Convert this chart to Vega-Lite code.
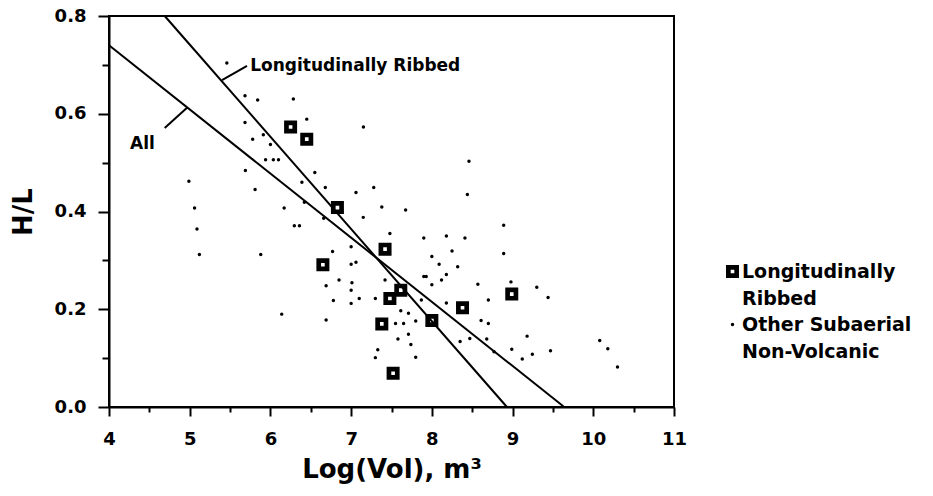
{
  "$schema": "https://vega.github.io/schema/vega-lite/v6.json",
  "width": 565,
  "height": 391,
  "autosize": {"type": "none"},
  "padding": {"left": 109, "top": 16, "right": 259, "bottom": 89},
  "background": "white",
  "config": {
    "view": {"stroke": "black", "strokeWidth": 2},
    "font": "DejaVu Sans",
    "style": {"guide-label": {"lineHeight": 27}},
    "axis": {
      "domainColor": "black", "domainWidth": 2, "tickColor": "black", "tickWidth": 2, "grid": false,
      "labelFont": "DejaVu Sans", "labelFontWeight": "bold", "labelFontSize": 18, "labelColor": "black",
      "titleFont": "DejaVu Sans", "titleFontWeight": "bold", "titleFontSize": 26, "titleColor": "black"
    }
  },
  "datasets": {
    "fits": [
      {"fit": "All", "x": 4.0, "y": 0.74},
      {"fit": "All", "x": 9.64, "y": 0.0},
      {"fit": "Longitudinally Ribbed", "x": 4.69, "y": 0.8},
      {"fit": "Longitudinally Ribbed", "x": 8.93, "y": 0.0}
    ],
    "leaders": [
      {"x1": 5.40, "y1": 0.669, "x2": 5.71, "y2": 0.698},
      {"x1": 4.69, "y1": 0.571, "x2": 4.97, "y2": 0.613}
    ],
    "notes": [
      {"x": 5.75, "y": 0.698, "label": "Longitudinally Ribbed"},
      {"x": 4.26, "y": 0.539, "label": "All"}
    ],
    "pts": [
      {"t": "Other", "x": 5.46, "y": 0.704}, {"t": "Other", "x": 5.685, "y": 0.637}, {"t": "Other", "x": 5.842, "y": 0.628},
      {"t": "Other", "x": 6.284, "y": 0.63}, {"t": "Other", "x": 6.45, "y": 0.589}, {"t": "Other", "x": 7.152, "y": 0.573},
      {"t": "Other", "x": 5.685, "y": 0.582}, {"t": "Other", "x": 5.912, "y": 0.557}, {"t": "Other", "x": 5.78, "y": 0.548},
      {"t": "Other", "x": 6.0, "y": 0.537}, {"t": "Other", "x": 5.94, "y": 0.506}, {"t": "Other", "x": 6.036, "y": 0.506},
      {"t": "Other", "x": 6.1, "y": 0.506}, {"t": "Other", "x": 5.69, "y": 0.484}, {"t": "Other", "x": 6.55, "y": 0.48},
      {"t": "Other", "x": 6.39, "y": 0.46}, {"t": "Other", "x": 4.99, "y": 0.462}, {"t": "Other", "x": 5.81, "y": 0.445},
      {"t": "Other", "x": 6.68, "y": 0.449}, {"t": "Other", "x": 7.06, "y": 0.439}, {"t": "Other", "x": 7.28, "y": 0.449},
      {"t": "Other", "x": 6.42, "y": 0.419}, {"t": "Other", "x": 5.06, "y": 0.407}, {"t": "Other", "x": 6.17, "y": 0.407},
      {"t": "Other", "x": 6.66, "y": 0.386}, {"t": "Other", "x": 7.15, "y": 0.388}, {"t": "Other", "x": 7.38, "y": 0.409},
      {"t": "Other", "x": 5.09, "y": 0.364}, {"t": "Other", "x": 6.296, "y": 0.371}, {"t": "Other", "x": 6.36, "y": 0.371},
      {"t": "Other", "x": 7.48, "y": 0.355}, {"t": "Other", "x": 5.12, "y": 0.312}, {"t": "Other", "x": 5.88, "y": 0.312},
      {"t": "Other", "x": 6.77, "y": 0.318}, {"t": "Other", "x": 7.0, "y": 0.328}, {"t": "Other", "x": 7.0, "y": 0.292},
      {"t": "Other", "x": 7.06, "y": 0.296}, {"t": "Other", "x": 6.85, "y": 0.26}, {"t": "Other", "x": 7.01, "y": 0.254},
      {"t": "Other", "x": 7.42, "y": 0.26}, {"t": "Other", "x": 6.69, "y": 0.248}, {"t": "Other", "x": 7.0, "y": 0.239},
      {"t": "Other", "x": 7.1, "y": 0.222}, {"t": "Other", "x": 7.3, "y": 0.222}, {"t": "Other", "x": 6.78, "y": 0.218},
      {"t": "Other", "x": 7.0, "y": 0.212}, {"t": "Other", "x": 6.14, "y": 0.19}, {"t": "Other", "x": 6.69, "y": 0.178},
      {"t": "Other", "x": 7.55, "y": 0.171}, {"t": "Other", "x": 7.58, "y": 0.139}, {"t": "Other", "x": 7.33, "y": 0.117},
      {"t": "Other", "x": 7.3, "y": 0.101}, {"t": "Other", "x": 8.46, "y": 0.503}, {"t": "Other", "x": 8.44, "y": 0.435},
      {"t": "Other", "x": 7.675, "y": 0.403}, {"t": "Other", "x": 8.89, "y": 0.372}, {"t": "Other", "x": 7.9, "y": 0.346},
      {"t": "Other", "x": 8.18, "y": 0.35}, {"t": "Other", "x": 8.41, "y": 0.346}, {"t": "Other", "x": 8.25, "y": 0.319},
      {"t": "Other", "x": 8.0, "y": 0.308}, {"t": "Other", "x": 8.89, "y": 0.314}, {"t": "Other", "x": 8.09, "y": 0.292},
      {"t": "Other", "x": 8.32, "y": 0.287}, {"t": "Other", "x": 8.18, "y": 0.271}, {"t": "Other", "x": 7.9, "y": 0.267},
      {"t": "Other", "x": 7.93, "y": 0.267}, {"t": "Other", "x": 8.12, "y": 0.26}, {"t": "Other", "x": 8.0, "y": 0.25},
      {"t": "Other", "x": 8.57, "y": 0.251}, {"t": "Other", "x": 8.98, "y": 0.256}, {"t": "Other", "x": 9.3, "y": 0.245},
      {"t": "Other", "x": 9.44, "y": 0.224}, {"t": "Other", "x": 8.7, "y": 0.219}, {"t": "Other", "x": 7.87, "y": 0.219},
      {"t": "Other", "x": 8.18, "y": 0.213}, {"t": "Other", "x": 7.615, "y": 0.197}, {"t": "Other", "x": 7.71, "y": 0.192},
      {"t": "Other", "x": 7.8, "y": 0.176}, {"t": "Other", "x": 7.65, "y": 0.171}, {"t": "Other", "x": 8.61, "y": 0.177},
      {"t": "Other", "x": 8.7, "y": 0.171}, {"t": "Other", "x": 7.71, "y": 0.149}, {"t": "Other", "x": 7.74, "y": 0.128},
      {"t": "Other", "x": 7.8, "y": 0.102}, {"t": "Other", "x": 8.35, "y": 0.134}, {"t": "Other", "x": 8.47, "y": 0.14},
      {"t": "Other", "x": 8.68, "y": 0.139}, {"t": "Other", "x": 8.77, "y": 0.113}, {"t": "Other", "x": 8.99, "y": 0.118},
      {"t": "Other", "x": 9.18, "y": 0.145}, {"t": "Other", "x": 9.12, "y": 0.098}, {"t": "Other", "x": 9.245, "y": 0.108},
      {"t": "Other", "x": 9.47, "y": 0.115}, {"t": "Other", "x": 10.08, "y": 0.136}, {"t": "Other", "x": 10.18, "y": 0.119},
      {"t": "Other", "x": 10.3, "y": 0.082},
      {"t": "LR", "x": 6.25, "y": 0.573}, {"t": "LR", "x": 6.45, "y": 0.548}, {"t": "LR", "x": 6.83, "y": 0.408},
      {"t": "LR", "x": 6.65, "y": 0.291}, {"t": "LR", "x": 7.42, "y": 0.323}, {"t": "LR", "x": 7.615, "y": 0.239},
      {"t": "LR", "x": 7.48, "y": 0.222}, {"t": "LR", "x": 7.38, "y": 0.17}, {"t": "LR", "x": 8.0, "y": 0.177},
      {"t": "LR", "x": 8.38, "y": 0.203}, {"t": "LR", "x": 8.99, "y": 0.231}, {"t": "LR", "x": 7.52, "y": 0.069}
    ]
  },
  "layer": [
    {
      "data": {"name": "fits"},
      "mark": {"type": "line", "color": "black", "strokeWidth": 2},
      "encoding": {
        "x": {
          "field": "x", "type": "quantitative",
          "scale": {"domain": [4, 11], "nice": false, "zero": false},
          "axis": {
            "title": "Log(Vol), m³",
            "values": [4, 4.5, 5, 5.5, 6, 6.5, 7, 7.5, 8, 8.5, 9, 9.5, 10, 10.5, 11],
            "labelExpr": "datum.value % 1 === 0 ? format(datum.value, 'd') : ''",
            "tickSize": {"condition": {"test": "datum.value % 1 === 0", "value": 9}, "value": 5},
            "labelPadding": 14,
            "titlePadding": 8,
            "labelFlush": false,
            "labelOverlap": false
          }
        },
        "y": {
          "field": "y", "type": "quantitative",
          "scale": {"domain": [0, 0.8], "nice": false, "zero": false},
          "axis": {
            "title": "H/L",
            "values": [0, 0.1, 0.2, 0.3, 0.4, 0.5, 0.6, 0.7, 0.8],
            "labelExpr": "round(datum.value * 10) % 2 === 0 ? format(datum.value, '.1f') : ''",
            "tickSize": {"condition": {"test": "round(datum.value * 10) % 2 === 0", "value": 11}, "value": 7},
            "labelPadding": 12,
            "titlePadding": 18,
            "labelFlush": false,
            "labelOverlap": false
          }
        },
        "detail": {"field": "fit"}
      }
    },
    {
      "data": {"name": "leaders"},
      "mark": {"type": "rule", "color": "black", "strokeWidth": 2},
      "encoding": {
        "x": {"field": "x1", "type": "quantitative"},
        "y": {"field": "y1", "type": "quantitative"},
        "x2": {"field": "x2"},
        "y2": {"field": "y2"}
      }
    },
    {
      "data": {"name": "notes"},
      "mark": {"type": "text", "align": "left", "baseline": "middle", "font": "DejaVu Sans", "fontWeight": "bold", "fontSize": 17, "color": "black"},
      "encoding": {
        "x": {"field": "x", "type": "quantitative"},
        "y": {"field": "y", "type": "quantitative"},
        "text": {"field": "label"}
      }
    },
    {
      "data": {"name": "pts"},
      "mark": {"type": "point", "filled": true, "color": "black", "opacity": 1, "strokeWidth": 0},
      "encoding": {
        "x": {"field": "x", "type": "quantitative"},
        "y": {"field": "y", "type": "quantitative"},
        "shape": {
          "field": "t", "type": "nominal",
          "scale": {"domain": ["LR", "Other"], "range": ["M-1,-1H1V1H-1Z M-0.28,-0.28V0.28H0.28V-0.28Z", "circle"]},
          "legend": {
            "title": null, "orient": "none", "legendX": 614, "legendY": 246, "padding": 0,
            "labelFont": "DejaVu Sans", "labelFontWeight": "bold", "labelFontSize": 19, "labelColor": "black",
            "labelExpr": "datum.value == 'LR' ? ['Longitudinally', 'Ribbed'] : ['Other Subaerial', 'Non-Volcanic']",
            "labelBaseline": "middle", "labelLimit": 400, "labelOffset": 0, "rowPadding": 6,
            "symbolFillColor": "black", "symbolStrokeWidth": 0, "symbolOpacity": 1,
            "encode": {"labels": {"update": {"dy": {"value": 13}}}}
          }
        },
        "size": {
          "field": "t", "type": "nominal",
          "scale": {"domain": ["LR", "Other"], "range": [169, 12]},
          "legend": {
            "title": null, "orient": "none", "legendX": 614, "legendY": 246, "padding": 0,
            "labelFont": "DejaVu Sans", "labelFontWeight": "bold", "labelFontSize": 19, "labelColor": "black",
            "labelExpr": "datum.value == 'LR' ? ['Longitudinally', 'Ribbed'] : ['Other Subaerial', 'Non-Volcanic']",
            "labelBaseline": "middle", "labelLimit": 400, "labelOffset": 0, "rowPadding": 6,
            "symbolFillColor": "black", "symbolStrokeWidth": 0, "symbolOpacity": 1,
            "encode": {"labels": {"update": {"dy": {"value": 13}}}}
          }
        }
      }
    }
  ]
}
